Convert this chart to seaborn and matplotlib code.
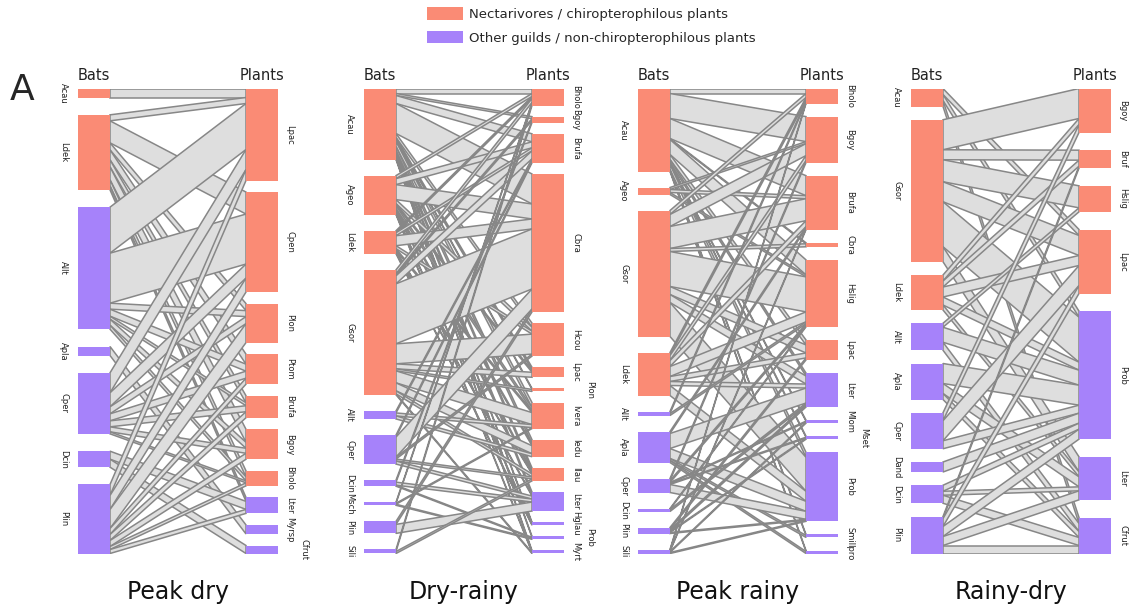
import numpy as np
import matplotlib
matplotlib.use("Agg")
import matplotlib.pyplot as plt
from matplotlib.patches import Polygon, Patch
import seaborn as sns

sns.set_theme(style="white")
plt.rcParams['font.family'] = ['DejaVu Sans']

# ---------------- data ----------------
guild_labels = ["Nectarivores / chiropterophilous plants",
                "Other guilds / non-chiropterophilous plants"]

# Panel 1 : Peak dry
p1_title = "Peak dry"
p1_bats = ["Acau", "Ldek", "Allt", "Apla", "Cper", "Dcin", "Plin"]
p1_bat_nect = [1, 1, 0, 0, 0, 0, 0]
p1_plants = ["Lpac", "Cpen", "Plon", "Ptom", "Brufa", "Bgoy", "Bholo", "Lter", "Myrsp", "Cfrut"]
p1_plant_nect = [1, 1, 1, 1, 1, 1, 1, 0, 0, 0]
p1_web = [
    [9, 0, 0, 0, 0, 0, 0, 0, 0, 0],
    [6, 22, 7, 10, 7, 13, 6, 4, 0, 0],
    [46, 50, 6, 7, 3, 6, 4, 0, 0, 0],
    [0, 0, 0, 0, 0, 0, 0, 0, 9, 0],
    [20, 14, 7, 7, 6, 5, 2, 0, 0, 0],
    [0, 0, 0, 0, 0, 0, 0, 8, 0, 8],
    [11, 14, 19, 6, 6, 6, 3, 4, 0, 0],
]
p1_shifted = ["Cfrut"]

# Panel 2 : Dry-rainy
p2_title = "Dry-rainy"
p2_bats = ["Acau", "Ageo", "Ldek", "Gsor", "Allt", "Cper", "Dcin", "Msch", "Plin", "Sili"]
p2_bat_nect = [1, 1, 1, 1, 0, 0, 0, 0, 0, 0]
p2_plants = ["Bholo", "Bgoy", "Brufa", "Cbra", "Hcou", "Lpac", "Plon", "Ivera", "Iedu",
             "Ilau", "Lter", "Hglau", "Prob", "Myrt"]
p2_plant_nect = [1, 1, 1, 1, 1, 1, 1, 1, 1, 1, 0, 0, 0, 0]
p2_web = [
    [5, 2, 8, 30, 4, 3, 1, 5, 4, 3, 3, 1, 1, 1],
    [3, 0, 6, 15, 4, 2, 0, 3, 2, 2, 0, 1, 0, 1],
    [2, 0, 3, 10, 3, 0, 0, 2, 0, 1, 1, 1, 0, 0],
    [4, 2, 8, 60, 20, 5, 2, 12, 8, 3, 0, 0, 0, 1],
    [0, 0, 2, 0, 0, 0, 0, 3, 3, 0, 0, 0, 0, 0],
    [0, 0, 2, 20, 2, 0, 0, 0, 0, 2, 3, 0, 0, 0],
    [0, 2, 0, 0, 0, 0, 0, 0, 0, 0, 3, 0, 1, 0],
    [1, 0, 0, 0, 0, 0, 0, 1, 0, 0, 0, 0, 1, 0],
    [0, 0, 0, 3, 0, 0, 0, 0, 0, 0, 9, 0, 0, 0],
    [2, 0, 0, 0, 0, 0, 0, 0, 0, 2, 0, 0, 0, 0],
]
p2_shifted = ["Plon", "Prob"]

# Panel 3 : Peak rainy
p3_title = "Peak rainy"
p3_bats = ["Acau", "Ageo", "Gsor", "Ldek", "Allt", "Apla", "Cper", "Dcin", "Plin", "Sili"]
p3_bat_nect = [1, 1, 1, 1, 0, 0, 0, 0, 0, 0]
p3_plants = ["Bholo", "Bgoy", "Brufa", "Cbra", "Hslig", "Lpac", "Lter", "Mlom", "Mset",
             "Prob", "Smil", "Ipro"]
p3_plant_nect = [1, 1, 1, 1, 1, 1, 0, 0, 0, 0, 0, 0]
p3_web = [
    [5, 25, 20, 1, 15, 5, 3, 1, 1, 5, 1, 1],
    [0, 2, 3, 0, 2, 0, 0, 0, 0, 0, 0, 0],
    [4, 12, 22, 3, 35, 8, 8, 0, 0, 34, 0, 0],
    [3, 5, 6, 0, 10, 5, 4, 0, 0, 10, 0, 0],
    [2, 0, 0, 0, 2, 0, 0, 0, 0, 0, 0, 0],
    [0, 0, 2, 0, 0, 0, 15, 0, 0, 10, 2, 2],
    [0, 2, 0, 0, 2, 0, 0, 1, 1, 8, 0, 0],
    [0, 0, 0, 0, 1, 0, 2, 0, 0, 0, 0, 0],
    [0, 0, 0, 0, 0, 2, 2, 0, 1, 1, 0, 0],
    [1, 0, 1, 0, 0, 0, 0, 1, 0, 1, 0, 0],
]
p3_shifted = ["Mset"]

# Panel 4 : Rainy-dry
p4_title = "Rainy-dry"
p4_bats = ["Acau", "Gsor", "Ldek", "Allt", "Apla", "Cper", "Dand", "Dcin", "Plin"]
p4_bat_nect = [1, 1, 1, 0, 0, 0, 0, 0, 0]
p4_plants = ["Bgoy", "Bruf", "Hslig", "Lpac", "Prob", "Lter", "Cfrut"]
p4_plant_nect = [1, 1, 1, 1, 0, 0, 0]
p4_web = [
    [0, 0, 0, 6, 6, 0, 6],
    [30, 10, 22, 20, 45, 15, 0],
    [6, 6, 0, 10, 8, 5, 0],
    [0, 0, 4, 0, 15, 0, 8],
    [0, 0, 0, 0, 20, 10, 6],
    [8, 0, 0, 20, 8, 0, 0],
    [0, 0, 0, 0, 10, 0, 0],
    [0, 0, 0, 0, 6, 4, 8],
    [0, 2, 0, 8, 10, 9, 8],
]
p4_shifted = []

panels = [
    (p1_title, p1_bats, p1_bat_nect, p1_plants, p1_plant_nect, p1_web, p1_shifted),
    (p2_title, p2_bats, p2_bat_nect, p2_plants, p2_plant_nect, p2_web, p2_shifted),
    (p3_title, p3_bats, p3_bat_nect, p3_plants, p3_plant_nect, p3_web, p3_shifted),
    (p4_title, p4_bats, p4_bat_nect, p4_plants, p4_plant_nect, p4_web, p4_shifted),
]

# ---------------- style / layout ----------------
NECT = "#FA8B75"
OTHER = "#A682FA"
LINK_FILL = "#DEDEDE"
LINK_EDGE = "#878787"
W, Hfig = 1129, 610
H = 465.0          # vertical span of each web (in interaction units)
BAR_W = 0.16       # fraction of panel width
panel_left_px = [78, 364, 638, 911]
panel_w_px = 200
panel_top_px = 88.5

fig = plt.figure(figsize=(W / 100, Hfig / 100), dpi=100)


def layout(sizes):
    sizes = np.asarray(sizes, float)
    gap = (H - sizes.sum()) / (len(sizes) - 1)
    starts = np.concatenate([[0], np.cumsum(sizes + gap)[:-1]])
    return starts


for k, (title, bats, bnect, plants, pnect, web, shifted) in enumerate(panels):
    M = np.asarray(web, float)
    bsz = M.sum(axis=1)
    psz = M.sum(axis=0)
    b0 = layout(bsz)
    p0 = layout(psz)

    ax = fig.add_axes([panel_left_px[k] / W, 1 - (panel_top_px + H) / Hfig,
                       panel_w_px / W, H / Hfig])
    ax.set_xlim(0, 1)
    ax.set_ylim(H, 0)
    ax.axis("off")

    xb = BAR_W
    xp = 1 - BAR_W
    bcur = b0.copy()
    pcur = p0.copy()
    segs = {}
    for i in range(M.shape[0]):
        for j in range(M.shape[1]):
            if M[i, j] > 0:
                segs[(i, j)] = [bcur[i], bcur[i] + M[i, j]]
                bcur[i] += M[i, j]
    for j in range(M.shape[1]):
        for i in range(M.shape[0]):
            if M[i, j] > 0:
                segs[(i, j)] += [pcur[j], pcur[j] + M[i, j]]
                pcur[j] += M[i, j]
    for i in range(M.shape[0]):
        for j in range(M.shape[1]):
            if M[i, j] > 0:
                yb0, yb1, yp0, yp1 = segs[(i, j)]
                poly = Polygon([(xb, yb0), (xp, yp0), (xp, yp1), (xb, yb1)],
                               closed=True, facecolor=LINK_FILL, edgecolor=LINK_EDGE,
                               linewidth=1.1, zorder=1)
                ax.add_patch(poly)

    ax.bar([BAR_W / 2] * len(bats), bsz, bottom=b0, width=BAR_W,
           color=[NECT if n else OTHER for n in bnect], linewidth=0, zorder=3)
    ax.bar([1 - BAR_W / 2] * len(plants), psz, bottom=p0, width=BAR_W,
           color=[NECT if n else OTHER for n in pnect], linewidth=0, zorder=3)

    for name, s, y in zip(bats, bsz, b0):
        ax.text(-0.072, y + s / 2, name, rotation=-90, ha="center", va="center",
                fontsize=6, color="#222222")
    for name, s, y in zip(plants, psz, p0):
        xoff = 1.128 if name in shifted else 1.06
        ax.text(xoff, y + s / 2, name, rotation=-90, ha="center", va="center",
                fontsize=6, color="#222222")

    ax.text(BAR_W / 2, -13, "Bats", ha="center", va="center", fontsize=10.5, color="#222222")
    ax.text(1 - BAR_W / 2, -13, "Plants", ha="center", va="center", fontsize=10.5, color="#222222")
    ax.text(0.5, H + 39, title, ha="center", va="center", fontsize=17, color="#111111")

fig.text(22 / W, 1 - 90 / Hfig, "A", fontsize=26, ha="center", va="center")

handles = [Patch(facecolor=NECT, edgecolor="none"), Patch(facecolor=OTHER, edgecolor="none")]
fig.legend(handles, guild_labels, loc="upper left",
           bbox_to_anchor=(427 / W, 1 - 7 / Hfig), frameon=False,
           fontsize=9.5, handlelength=2.7, handleheight=1.1, handletextpad=0.45,
           labelspacing=0.75, borderpad=0, borderaxespad=0)

fig.savefig("out.png", dpi=100, facecolor="white")
